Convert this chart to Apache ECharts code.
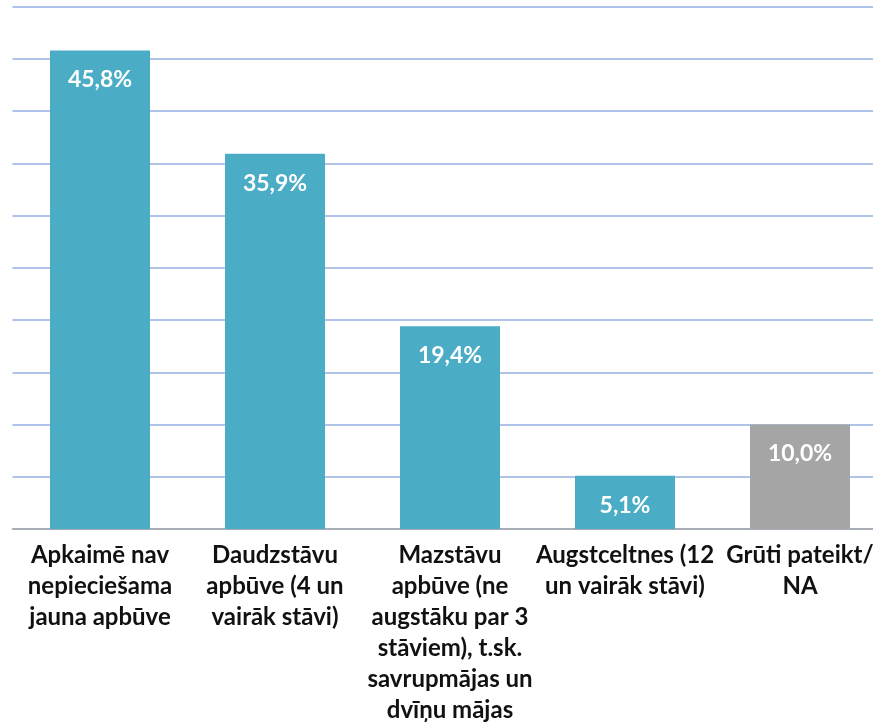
<!DOCTYPE html>
<html>
<head>
<meta charset="utf-8">
<script src="https://cdn.jsdelivr.net/npm/echarts@6/dist/echarts.min.js"></script>
<style>
  html, body { margin: 0; padding: 0; background: #fff; }
  #chart { width: 873px; height: 727px; }
</style>
</head>
<body>
<div id="chart"></div>
<script>
// kategorijas (ar rindu pārnesumiem kā attēlā)
var categories = [
  "Apkaimē nav\nnepieciešama\njauna apbūve",
  "Daudzstāvu\napbūve (4 un\nvairāk stāvi)",
  "Mazstāvu\napbūve (ne\naugstāku par 3\nstāviem), t.sk.\nsavrupmājas un\ndvīņu mājas",
  "Augstceltnes (12\nun vairāk stāvi)",
  "Grūti pateikt/\nNA"
];
var values = [45.8, 35.9, 19.4, 5.1, 10.0];
var barColors = ["#4BACC6", "#4BACC6", "#4BACC6", "#4BACC6", "#A5A5A5"];

var myChart = echarts.init(document.getElementById("chart"));

var option = {
  animation: false,
  grid: {
    left: 12.5,
    top: 6.5,
    width: 875,
    bottom: 198,
    containLabel: false,
    outerBoundsMode: "none"
  },
  xAxis: {
    type: "category",
    data: categories,
    axisTick: { show: false },
    axisLine: { lineStyle: { color: "#A6A6A6", width: 1.5 } },
    axisLabel: {
      interval: 0,
      color: "#111",
      fontFamily: "Lato",
      fontWeight: "bold",
      fontSize: 24,
      lineHeight: 31,
      margin: 11
    }
  },
  yAxis: {
    type: "value",
    min: 0,
    max: 50,
    interval: 5,
    axisLabel: { show: false },
    axisLine: { show: false },
    axisTick: { show: false },
    splitLine: { lineStyle: { color: "#B0C3E8", width: 2 } }
  },
  series: [
    {
      type: "bar",
      barWidth: 100,
      data: values.map(function (v, i) {
        return { value: v, itemStyle: { color: barColors[i] } };
      }),
      label: {
        show: true,
        position: "insideTop",
        distance: 18,
        color: "#fff",
        fontFamily: "Lato",
        fontWeight: "bold",
        fontSize: 23,
        formatter: function (p) {
          return p.value.toFixed(1).replace(".", ",") + "%";
        }
      }
    }
  ]
};
myChart.setOption(option);
</script>
</body>
</html>
